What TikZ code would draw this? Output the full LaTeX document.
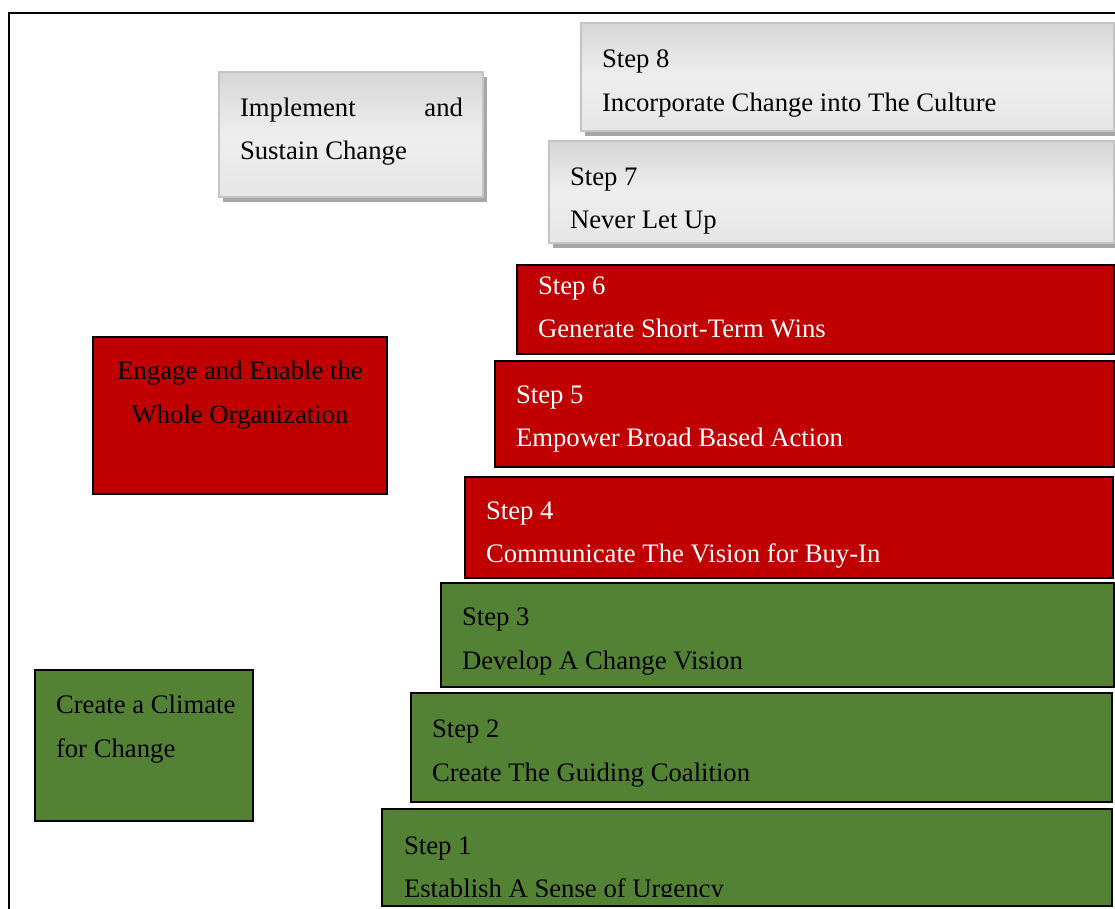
\documentclass[tikz,border=0pt]{standalone}
\usepackage{fontspec}
\setmainfont{Liberation Serif}
\usetikzlibrary{calc,shadows}
\definecolor{stepgreen}{RGB}{84,130,53}
\definecolor{stepred}{RGB}{192,0,0}
\definecolor{shadowgray}{RGB}{166,166,166}
\definecolor{edgegray}{RGB}{196,196,196}
\definecolor{graytop}{RGB}{214,214,214}
\definecolor{graymid}{RGB}{238,238,238}
\definecolor{graybot}{RGB}{230,230,230}
\begin{document}
\begin{tikzpicture}[x=1pt,y=-1pt,
  boxbase/.style={rectangle, anchor=north west, inner sep=0pt, outer sep=0pt},
  greenbox/.style={boxbase, draw=black, line width=2pt, fill=stepgreen},
  redbox/.style={boxbase, draw=black, line width=2pt, fill=stepred},
  graybox/.style={boxbase, draw=edgegray, line width=1.5pt,
    top color=graytop, bottom color=graybot, middle color=graymid,
    drop shadow={shadow xshift=4pt, shadow yshift=-5pt, fill=shadowgray, opacity=1}},
  txt/.style={anchor=base west, inner sep=0pt, outer sep=0pt,
    font=\fontsize{26.7}{43.5}\selectfont},
]
\useasboundingbox (0,0) rectangle (1115,909);
\fill[white] (0,0) rectangle (1115,909);

% outer frame
\coordinate (fbl) at (9,909);
\coordinate (ftl) at (9,13);
\coordinate (ftr) at (1115,13);
\draw[line width=2.2pt] (fbl) -- (ftl) -- (ftr);

% gray boxes
\node[graybox, minimum width=533pt, minimum height=108pt] (b8) at (581,23) {};
\node[graybox, minimum width=565pt, minimum height=102pt] (b7) at (549,141) {};
\node[graybox, minimum width=264pt, minimum height=125pt] (imp) at (219,72) {};

% red boxes
\node[redbox, minimum width=597pt, minimum height=89pt] (b6) at (517,265) {};
\node[redbox, minimum width=619pt, minimum height=106pt] (b5) at (495,361) {};
\node[redbox, minimum width=648pt, minimum height=101pt] (b4) at (465,477) {};
\node[redbox, minimum width=294pt, minimum height=157pt] (eng) at (93,337) {};

% green boxes
\node[greenbox, minimum width=673pt, minimum height=104pt] (b3) at (441,583) {};
\node[greenbox, minimum width=701pt, minimum height=109pt] (b2) at (411,693) {};
\node[greenbox, minimum width=730pt, minimum height=97pt] (b1) at (382,809) {};
\node[greenbox, minimum width=218pt, minimum height=151pt] (cre) at (35,670) {};

% texts
\node[txt] (t8) at ($(b8.north west)+(21,45)$) {\parbox[t]{500pt}{Step 8\\Incorporate Change into The Culture}};
\node[txt] (t7) at ($(b7.north west)+(21,44.5)$) {\parbox[t]{500pt}{Step 7\\Never Let Up}};
\node[txt] (timp) at ($(imp.north west)+(21,44.5)$) {\parbox[t]{223pt}{Implement\hfill and\\Sustain Change}};
\node[txt, text=white] (t6) at ($(b6.north west)+(21,29)$) {\parbox[t]{500pt}{Step 6\\Generate Short-Term Wins}};
\node[txt, text=white] (t5) at ($(b5.north west)+(21,42)$) {\parbox[t]{500pt}{Step 5\\Empower Broad Based Action}};
\node[txt, text=white] (t4) at ($(b4.north west)+(21,42)$) {\parbox[t]{560pt}{Step 4\\Communicate The Vision for Buy-In}};
\node[txt, anchor=base] (teng) at ($(eng.north)+(0,42.5)$) {\parbox[t]{280pt}{\centering Engage and Enable the\\Whole Organization}};
\node[txt] (t3) at ($(b3.north west)+(21,42.5)$) {\parbox[t]{500pt}{Step 3\\Develop A Change Vision}};
\node[txt] (t2) at ($(b2.north west)+(21,44.5)$) {\parbox[t]{500pt}{Step 2\\Create The Guiding Coalition}};
\begin{scope}
\clip (382,809) rectangle (1112,896);
\node[txt] (t1) at ($(b1.north west)+(22,45)$) {\parbox[t]{500pt}{Step 1\\Establish A Sense of Urgency}};
\end{scope}
\node[txt] (tcre) at ($(cre.north west)+(21,43.5)$) {\parbox[t]{190pt}{Create a Climate\\for Change}};
\end{tikzpicture}
\end{document}
